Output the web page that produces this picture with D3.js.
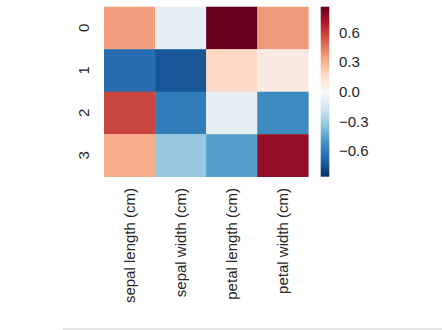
<!DOCTYPE html>
<html>
<head>
<meta charset="utf-8">
<script src="https://cdn.jsdelivr.net/npm/d3@7"></script>
<style>
  body { margin: 0; background: #fff; }
  text { font-family: "Liberation Sans", Arial, sans-serif; fill: #262626; }
</style>
</head>
<body>
<div class="chart"></div>
<script>
// data
var rowLabels = ["0", "1", "2", "3"];
var colLabels = ["sepal length (cm)", "sepal width (cm)", "petal length (cm)", "petal width (cm)"];
var row0 = [0.36, -0.086, 0.86, 0.37];
var row1 = [-0.66, -0.74, 0.18, 0.08];
var row2 = [0.58, -0.60, -0.077, -0.55];
var row3 = [0.32, -0.33, -0.48, 0.76];
var values = [row0, row1, row2, row3];
var cbarTicks = [0.6, 0.3, 0.0, -0.3, -0.6];

var vmax = 0.86, vmin = -0.86;

// RdBu_r (matplotlib colours)
var rdbu = ["#67001f", "#b2182b", "#d6604d", "#f4a582", "#fddbc7", "#f7f7f7",
            "#d1e5f0", "#92c5de", "#4393c3", "#2166ac", "#053061"].reverse();

var svgWidth = 442, svgHeight = 330;

var svg = d3.select(".chart")
  .append("svg")
  .attr("width", svgWidth)
  .attr("height", svgHeight);

var color = d3.scaleLinear()
  .domain(d3.range(rdbu.length).map(function(i) { return vmin + i * (vmax - vmin) / (rdbu.length - 1); }))
  .range(rdbu)
  .interpolate(d3.interpolateRgb)
  .clamp(true);

// heatmap area
var hmLeft = 104, hmRight = 308.3, hmTop = 6.7, hmBottom = 176.7;

var x = d3.scaleBand().domain(colLabels).range([hmLeft, hmRight]);
var y = d3.scaleBand().domain(rowLabels).range([hmTop, hmBottom]);

var cells = [];
values.forEach(function(row, i) {
  row.forEach(function(v, j) {
    cells.push({ r: rowLabels[i], c: colLabels[j], v: v });
  });
});

svg.append("g")
  .selectAll("rect")
  .data(cells)
  .enter()
  .append("rect")
    .attr("x", function(d) { return x(d.c); })
    .attr("y", function(d) { return y(d.r); })
    .attr("width", x.bandwidth() + 0.3)
    .attr("height", y.bandwidth() + 0.3)
    .attr("fill", function(d) { return color(d.v); });

// y tick labels (rotated)
svg.append("g")
  .selectAll("text")
  .data(rowLabels)
  .enter()
  .append("text")
    .attr("transform", function(d) { return "translate(84," + (y(d) + y.bandwidth() / 2) + ") rotate(-90)"; })
    .attr("text-anchor", "middle")
    .attr("dy", "0.35em")
    .style("font-size", "15px")
    .text(function(d) { return d; });

// x tick labels (vertical)
svg.append("g")
  .selectAll("text")
  .data(colLabels)
  .enter()
  .append("text")
    .attr("transform", function(d) { return "translate(" + (x(d) + x.bandwidth() / 2) + ",188) rotate(-90)"; })
    .attr("text-anchor", "end")
    .attr("dy", "0.35em")
    .style("font-size", "15px")
    .text(function(d) { return d; });

// colorbar
var cbLeft = 320.7, cbWidth = 8.6;
var cy = d3.scaleLinear().domain([vmin, vmax]).range([hmBottom, hmTop]);

var defs = svg.append("defs");
var grad = defs.append("linearGradient")
  .attr("id", "cbar")
  .attr("x1", 0).attr("y1", 1).attr("x2", 0).attr("y2", 0);
grad.selectAll("stop")
  .data(rdbu)
  .enter()
  .append("stop")
    .attr("offset", function(d, i) { return i / (rdbu.length - 1); })
    .attr("stop-color", function(d) { return d; });

svg.append("rect")
  .attr("x", cbLeft)
  .attr("y", hmTop)
  .attr("width", cbWidth)
  .attr("height", hmBottom - hmTop)
  .attr("fill", "url(#cbar)");

svg.append("g")
  .selectAll("text")
  .data(cbarTicks)
  .enter()
  .append("text")
    .attr("x", 339)
    .attr("y", function(d) { return cy(d); })
    .attr("dy", "0.35em")
    .style("font-size", "15px")
    .text(function(d) { return d3.format(".1f")(d).replace("-", "\u2212"); });

// thin line at the bottom edge
svg.append("line")
  .attr("x1", 63).attr("x2", svgWidth)
  .attr("y1", 329).attr("y2", 329)
  .attr("stroke", "#cccccc")
  .attr("stroke-width", 1);
</script>
</body>
</html>
